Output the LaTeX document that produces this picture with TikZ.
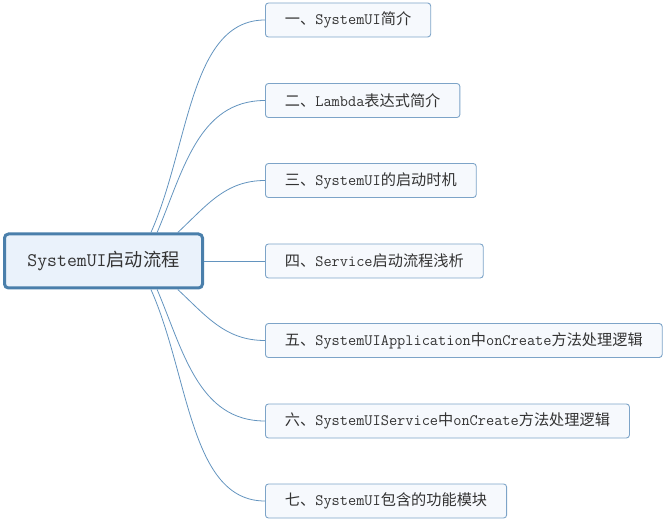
\documentclass[tikz,border=0pt]{standalone}
\usepackage{fontspec}
\newfontfamily\cjk[Scale=0.955]{Noto Sans CJK SC}
\newfontfamily\cjkbig[Scale=0.95]{Noto Sans CJK SC}

\definecolor{rootline}{HTML}{4A7FAB}
\definecolor{rootfill}{HTML}{EAF2FB}
\definecolor{topicline}{HTML}{7DA4C8}
\definecolor{topicfill}{HTML}{F6F9FD}
\definecolor{branchline}{HTML}{6394BF}
\definecolor{textgray}{HTML}{333333}

\begin{document}
\begin{tikzpicture}[x=1pt, y=1pt,
		rootbox/.style = {draw = rootline, fill = rootfill, line width = 3pt, rounded corners = 4pt,
			minimum width = 198pt, minimum height = 54pt, inner sep = 0pt, text = textgray,
			font = \ttfamily\fontsize{19.2}{22}\selectfont},
		topicbox/.style = {draw = topicline, fill = topicfill, line width = 0.9pt, rounded corners = 3pt,
			minimum height = 34pt, inner xsep = 19.5pt, inner ysep = 0pt, anchor = west, text = textgray,
			font = \ttfamily\fontsize{15.9}{20}\selectfont},
		branch/.style = {draw = branchline, line width = 0.8pt}]
		\useasboundingbox (0,0) rectangle (663,522);
		% root topic
		\node [rootbox] (sysui) at (103.5, 261) {SystemUI{\cjkbig 启动流程}};
		% subtopics
		\node [topicbox] (intro) at (265, 502) {{\cjk 一、}SystemUI{\cjk 简介}};
		\node [topicbox] (lambda) at (265, 421.5) {{\cjk 二、}Lambda{\cjk 表达式简介}};
		\node [topicbox] (timing) at (265, 341.5) {{\cjk 三、}SystemUI{\cjk 的启动时机}};
		\node [topicbox] (service) at (265, 261) {{\cjk 四、}Service{\cjk 启动流程浅析}};
		\node [topicbox] (appcreate) at (265, 181.5) {{\cjk 五、}SystemUIApplication{\cjk 中}onCreate{\cjk 方法处理逻辑}};
		\node [topicbox] (svccreate) at (265, 101) {{\cjk 六、}SystemUIService{\cjk 中}onCreate{\cjk 方法处理逻辑}};
		\node [topicbox] (modules) at (265, 21) {{\cjk 七、}SystemUI{\cjk 包含的功能模块}};
		% branches
		\draw [branch] (sysui.31) to [out = 66, in = 180, in looseness = 0.8] (intro.west);
		\draw [branch] (sysui.28) to [out = 67, in = 180] (lambda.west);
		\draw [branch] (sysui.21) to [out = 43, in = 180] (timing.west);
		\draw [branch] (sysui.east) -- (service.west);
		\draw [branch] (sysui.-21) to [out = -43, in = 180] (appcreate.west);
		\draw [branch] (sysui.-28) to [out = -67, in = 180] (svccreate.west);
		\draw [branch] (sysui.-31) to [out = -66, in = 180, in looseness = 0.8] (modules.west);
\end{tikzpicture}
\end{document}
